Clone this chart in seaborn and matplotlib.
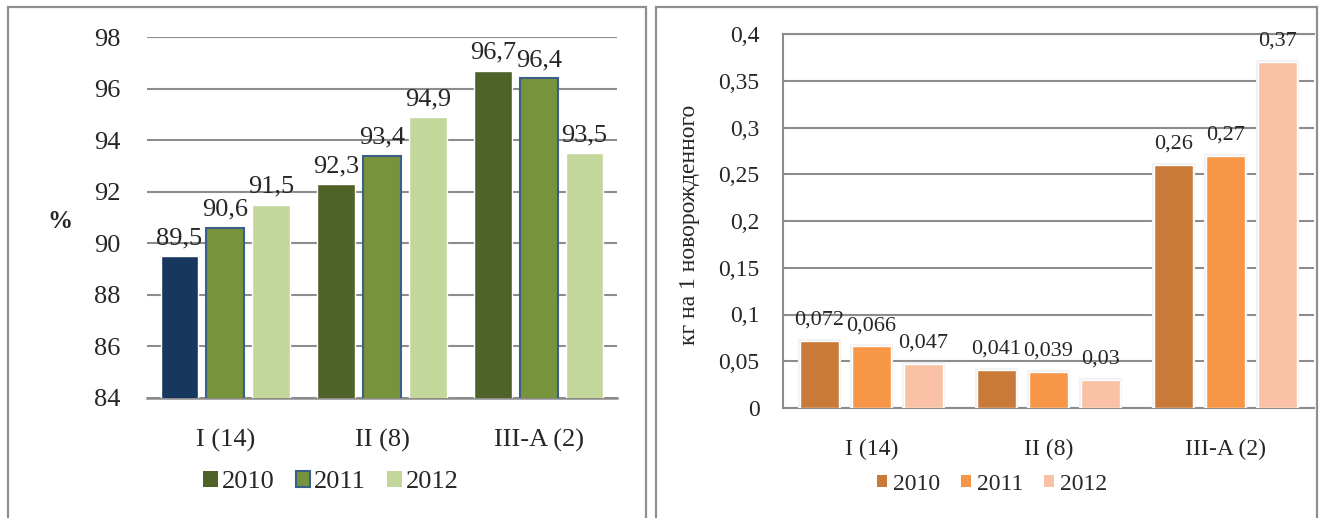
import matplotlib
matplotlib.use("Agg")
import matplotlib.pyplot as plt
import matplotlib.patheffects as pe
from matplotlib.patches import Patch, Rectangle
import pandas as pd
import seaborn as sns

# ---- data ----
categories = ["I (14)", "II (8)", "III-A (2)"]
years = ["2010", "2011", "2012"]

coverage_2010 = [89.5, 92.3, 96.7]
coverage_2011 = [90.6, 93.4, 96.4]
coverage_2012 = [91.5, 94.9, 93.5]

usage_2010 = [0.072, 0.041, 0.26]
usage_2011 = [0.066, 0.039, 0.27]
usage_2012 = [0.047, 0.03, 0.37]

left_ticks = [84, 86, 88, 90, 92, 94, 96, 98]
right_ticks = [0, 0.05, 0.1, 0.15, 0.2, 0.25, 0.3, 0.35, 0.4]
right_tick_labels = ["0", "0,05", "0,1", "0,15", "0,2", "0,25", "0,3", "0,35", "0,4"]

left_ylabel = "%"
right_ylabel = "кг на 1 новорожденного"

green_colors = ["#4F6228", "#77933C", "#C4D79B"]
first_bar_color = "#17375E"
edge_2011 = "#3A5F8C"
orange_colors = ["#C97A39", "#F79646", "#F9C2A5"]


def long_frame(series):
    rows = []
    for year, vals in zip(years, series):
        for cat, v in zip(categories, vals):
            rows.append({"category": cat, "year": year, "value": v})
    return pd.DataFrame(rows)


def fmt(v):
    return f"{v:g}".replace(".", ",")


df_left = long_frame([coverage_2010, coverage_2011, coverage_2012])
df_right = long_frame([usage_2010, usage_2011, usage_2012])

sns.set_style("white")
plt.rcParams["font.family"] = ["Liberation Serif", "DejaVu Serif"]

W, H = 1324, 518
fig = plt.figure(figsize=(W / 100, H / 100), dpi=100)
fig.patch.set_facecolor("white")


def fx(px):
    return px / W


def fy(py):
    return (H - py) / H


grid_gray = "#8C8C8C"

# ---- left panel ----
axL = fig.add_axes([fx(147), fy(398), fx(617) - fx(147), fy(37) - fy(398)])
sns.barplot(data=df_left, x="category", y="value", hue="year",
            order=categories, hue_order=years, palette=green_colors,
            saturation=1, width=0.88, gap=0.18, errorbar=None,
            legend=False, ax=axL, zorder=3)
axL.set_ylim(84, 98)
axL.set_yticks(left_ticks)
axL.set_yticklabels([str(t) for t in left_ticks])
axL.yaxis.grid(True, color=grid_gray, linewidth=1.5, zorder=0)
axL.set_axisbelow(True)
for side in ["left", "right", "top"]:
    axL.spines[side].set_visible(False)
axL.spines["bottom"].set_color(grid_gray)
axL.spines["bottom"].set_linewidth(1.8)
axL.tick_params(axis="y", length=0, pad=19, labelsize=19)
axL.tick_params(axis="x", length=0, pad=22, labelsize=19)
axL.set_xlabel("")
axL.set_ylabel("")
fig.text(fx(60), fy(222), left_ylabel, fontsize=18, fontweight="bold",
         ha="center", va="center")

# first group's 2010 bar is navy; 2011 bars carry a blue outline
axL.containers[0].patches[0].set_facecolor(first_bar_color)
for bar in axL.containers[1].patches:
    bar.set_edgecolor(edge_2011)
    bar.set_linewidth(1.5)

for cont, vals in zip(axL.containers, [coverage_2010, coverage_2011, coverage_2012]):
    axL.bar_label(cont, labels=[fmt(v) for v in vals], padding=5, fontsize=19)

handlesL = [
    Patch(facecolor=green_colors[0], edgecolor="none", label=years[0]),
    Patch(facecolor=green_colors[1], edgecolor=edge_2011, linewidth=1.5, label=years[1]),
    Patch(facecolor=green_colors[2], edgecolor="none", label=years[2]),
]
fig.legend(handles=handlesL, loc="center", bbox_to_anchor=(fx(331), fy(482)),
           ncol=3, frameon=False, fontsize=19, handlelength=0.55,
           handleheight=0.55, handletextpad=0.15, columnspacing=0.8,
           borderaxespad=0, borderpad=0)

# ---- right panel ----
axR = fig.add_axes([fx(783), fy(408), fx(1314) - fx(783), fy(34) - fy(408)])
sns.barplot(data=df_right, x="category", y="value", hue="year",
            order=categories, hue_order=years, palette=orange_colors,
            saturation=1, width=0.88, gap=0.25, errorbar=None,
            legend=False, ax=axR, zorder=3)
axR.set_ylim(0, 0.4)
axR.set_yticks(right_ticks)
axR.set_yticklabels(right_tick_labels)
axR.yaxis.grid(True, color=grid_gray, linewidth=1.5, zorder=0)
axR.set_axisbelow(True)
axR.spines["right"].set_visible(False)
for side in ["top", "left", "bottom"]:
    axR.spines[side].set_color(grid_gray)
    axR.spines[side].set_linewidth(1.5)
axR.tick_params(axis="y", length=0, pad=17, labelsize=17)
axR.tick_params(axis="x", length=0, pad=22, labelsize=17)
axR.set_xlabel("")
axR.set_ylabel("")
fig.text(fx(689), fy(225), right_ylabel, fontsize=17, rotation=90,
         ha="center", va="center")

# soft halo around the orange bars
for cont in axR.containers:
    for bar in cont.patches:
        bar.set_path_effects([pe.withStroke(linewidth=3, foreground="#F2F2F2")])

for cont, vals in zip(axR.containers, [usage_2010, usage_2011, usage_2012]):
    axR.bar_label(cont, labels=[fmt(v) for v in vals], padding=8, fontsize=16)

handlesR = [Patch(facecolor=c, edgecolor="none", label=y)
            for c, y in zip(orange_colors, years)]
fig.legend(handles=handlesR, loc="center", bbox_to_anchor=(fx(992), fy(484)),
           ncol=3, frameon=False, fontsize=17, handlelength=0.45,
           handleheight=0.45, handletextpad=0.25, columnspacing=0.85,
           borderaxespad=0, borderpad=0)

# ---- panel frames ----
frame_gray = "#8F8F8F"
for x0, x1 in [(8, 646), (656, 1317)]:
    fig.patches.append(Rectangle((fx(x0), -0.05), fx(x1) - fx(x0), fy(7) + 0.05,
                                 transform=fig.transFigure, fill=False,
                                 edgecolor=frame_gray, linewidth=1.6))

fig.savefig("out.png", dpi=100, facecolor="white")
